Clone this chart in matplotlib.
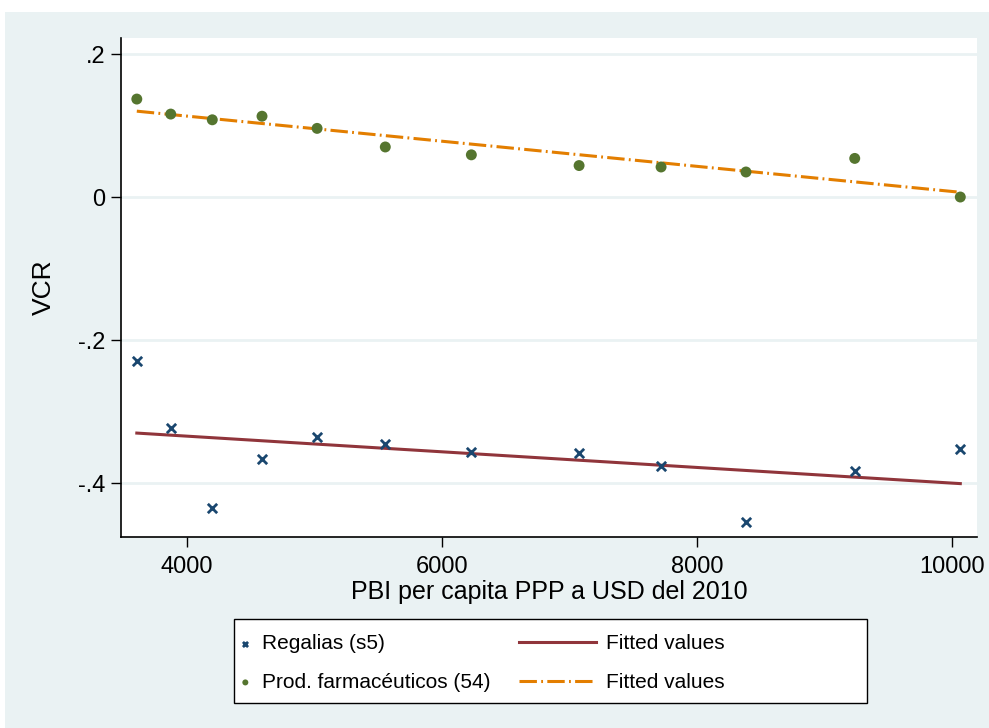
import matplotlib.pyplot as plt
import numpy as np
from matplotlib.patches import Rectangle

plt.rcParams['font.family'] = ['Liberation Sans', 'DejaVu Sans']

# PBI per capita (PPP, USD 2010) and VCR for each product
pbi = [3606, 3872, 4198, 4588, 5020, 5555, 6230, 7075, 7718, 8384, 9237, 10065]
regalias = [-0.229, -0.323, -0.435, -0.366, -0.335, -0.346, -0.357,
            -0.358, -0.376, -0.455, -0.383, -0.352]
farma = [0.137, 0.116, 0.108, 0.113, 0.096, 0.070, 0.059,
         0.044, 0.042, 0.035, 0.054, 0.000]

xticks = [4000, 6000, 8000, 10000]
yticks = [0.2, 0, -0.2, -0.4]
ytick_labels = ['.2', '0', '-.2', '-.4']

navy = '#1a476f'
maroon = '#90353b'
green = '#55752f'
orange = '#e37e00'
bg = '#eaf2f3'

W, H = 989, 728

x = np.array(pbi, dtype=float)
fit_r = np.polyval(np.polyfit(x, regalias, 1), x)
fit_f = np.polyval(np.polyfit(x, farma, 1), x)

fig = plt.figure(figsize=(W / 100, H / 100), dpi=100)
fig.patch.set_facecolor('white')
fig.patches.append(Rectangle((5 / W, 0), 1, 1 - 12 / H, transform=fig.transFigure,
                             facecolor=bg, edgecolor='none', zorder=-10))
ax = fig.add_axes([121 / W, 1 - 537 / H, 856 / W, 499 / H])
ax.set_facecolor('white')

for y in yticks:
    ax.axhline(y, color=bg, lw=2, zorder=0)

h1 = ax.scatter(x, regalias, marker='x', s=45, c=navy, linewidths=2, zorder=3)
h2 = ax.scatter(x, farma, marker='o', s=62, c=green, edgecolors='none', zorder=3)
l1, = ax.plot(x, fit_r, color=maroon, lw=2.2, zorder=2)
l2, = ax.plot(x, fit_f, color=orange, lw=2.2, dashes=(5.7, 1.4, 0.6, 1.4),
              dash_capstyle='butt', zorder=2)

ax.set_xlim(3482, 10196)
ax.set_ylim(-0.4755, 0.2224)
ax.set_xticks(xticks)
ax.set_xticklabels([str(t) for t in xticks])
ax.set_yticks(yticks)
ax.set_yticklabels(ytick_labels)
ax.tick_params(axis='both', labelsize=17, length=7, width=1, color='black')
ax.tick_params(axis='x', pad=7)
ax.tick_params(axis='y', pad=4)

for side in ['top', 'right']:
    ax.spines[side].set_visible(False)
for side in ['left', 'bottom']:
    ax.spines[side].set_linewidth(1.2)

ax.set_xlabel('PBI per capita PPP a USD del 2010', fontsize=18, labelpad=1)
ax.set_ylabel('VCR', fontsize=19, labelpad=16)

# legend: framed box with marker entries on the left, fitted lines on the right
fig.patches.append(Rectangle((234 / W, 1 - 703 / H), 633 / W, 84 / H,
                             transform=fig.transFigure, facecolor='white',
                             edgecolor='black', lw=1, zorder=5))
leg_kw = dict(loc='center left', frameon=False, fontsize=15, borderpad=0,
              borderaxespad=0, labelspacing=0.95)
leg_a = fig.legend([h1, h2], ['Regalias (s5)', 'Prod. farmacéuticos (54)'],
                   bbox_to_anchor=(237 / W, 1 - 663 / H), handlelength=0.8,
                   handletextpad=0.4, markerscale=0.55, **leg_kw)
leg_b = fig.legend([l1, l2], ['Fitted values', 'Fitted values'],
                   bbox_to_anchor=(519 / W, 1 - 663 / H), handlelength=3.7,
                   handletextpad=0.5, **leg_kw)
leg_a.set_zorder(6)
leg_b.set_zorder(6)

fig.savefig('out.png', dpi=100)
